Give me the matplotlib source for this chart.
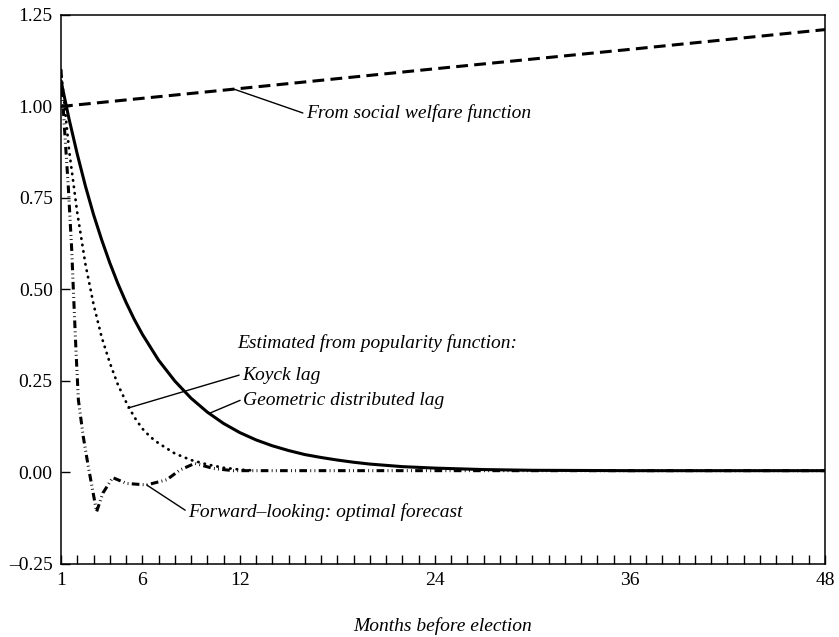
import numpy as np
import matplotlib
matplotlib.use('Agg')
import matplotlib.pyplot as plt

plt.rcParams['font.family'] = ['Liberation Serif', 'DejaVu Serif']
plt.rcParams['lines.scale_dashes'] = False

# values (months before election, weight)
welfare_months = [1, 12, 24, 36, 48]
welfare_vals = [1.00, 1.049, 1.103, 1.156, 1.21]

geometric_months = [1, 1.5, 2, 2.5, 3, 3.5, 4, 4.5, 5, 5.5, 6, 7, 8, 9, 10, 11, 12,
                    13, 14, 15, 16, 17, 18, 19, 20, 22, 24, 27, 30, 36, 48]
geometric_vals = [1.07, 0.965, 0.87, 0.783, 0.705, 0.636, 0.573, 0.516, 0.465, 0.419,
                  0.378, 0.307, 0.25, 0.203, 0.165, 0.134, 0.109, 0.089, 0.073, 0.06,
                  0.049, 0.041, 0.034, 0.028, 0.023, 0.016, 0.012, 0.008, 0.006,
                  0.005, 0.005]

koyck_months = [1, 1.5, 2, 2.5, 3, 3.5, 4, 4.5, 5, 5.5, 6, 6.5, 7, 8, 9, 10, 11, 12, 13]
koyck_vals = [1.10, 0.88, 0.71, 0.57, 0.46, 0.37, 0.30, 0.24, 0.193, 0.152, 0.12,
              0.097, 0.08, 0.052, 0.034, 0.022, 0.013, 0.008, 0.005]

forward_months = [1, 1.2, 1.45, 1.66, 1.76, 1.92, 2.07, 2.37, 2.68, 3.19, 3.58, 4.18,
                  5.04, 6.27, 7.5, 8.32, 9.24, 10.37, 11.6, 48]
forward_vals = [1.10, 0.95, 0.78, 0.608, 0.499, 0.335, 0.198, 0.098, 0.016, -0.107,
                -0.056, -0.014, -0.030, -0.034, -0.020, 0.007, 0.025, 0.011, 0.005, 0.005]

tick_months = [1, 6, 12, 24, 36, 48]
y_ticks = [-0.25, 0.0, 0.25, 0.50, 0.75, 1.00, 1.25]

fig = plt.figure(figsize=(8.39, 6.37), dpi=100)
ax = fig.add_axes([0.0727, 0.1146, 0.9106, 0.8619])

ax.plot(welfare_months, welfare_vals, color='black', lw=2.2, dashes=(8.5, 4.5))
ax.plot(geometric_months, geometric_vals, color='black', lw=2.2,
        solid_joinstyle='round', solid_capstyle='round')
ax.plot(koyck_months, koyck_vals, color='black', lw=2.0, dashes=(0.3, 4.4),
        dash_capstyle='round')
ax.plot(forward_months, forward_vals, color='black', lw=2.2,
        dashes=(5.5, 2.4, 0.6, 2.4, 0.6, 2.4))

ax.set_xlim(1, 48)
ax.set_ylim(-0.25, 1.25)
ax.set_xticks(tick_months)
ax.set_xticklabels([str(m) for m in tick_months])
ax.set_xticks(np.arange(1, 49), minor=True)
ax.set_yticks(y_ticks)
ax.set_yticklabels(['\u2013%.2f' % abs(v) if v < 0 else '%.2f' % v for v in y_ticks])

ax.tick_params(axis='both', which='both', direction='in', length=6.5, width=1.0,
               labelsize=14, top=False, right=False)
ax.tick_params(axis='x', pad=6)
ax.tick_params(axis='y', pad=6)
for s in ax.spines.values():
    s.set_linewidth(1.1)

ax.set_xlabel('Months before election', fontsize=14, style='italic', labelpad=20)

# annotations with leader lines
lead = dict(arrowstyle='-', color='black', lw=1.0, shrinkA=0, shrinkB=0)
ax.annotate('From social welfare function', xy=(11.6, 1.048), xytext=(16.05, 0.982),
            fontsize=14, style='italic', ha='left', va='center',
            arrowprops=dict(lead, relpos=(0, 0.45)))
ax.text(11.82, 0.354, 'Estimated from popularity function:', fontsize=14,
        style='italic', ha='left', va='center')
ax.annotate('Koyck lag', xy=(5.12, 0.176), xytext=(12.13, 0.266),
            fontsize=14, style='italic', ha='left', va='center',
            arrowprops=dict(lead, relpos=(0, 0.55)))
ax.annotate('Geometric distributed lag', xy=(10.2, 0.163), xytext=(12.19, 0.198),
            fontsize=14, style='italic', ha='left', va='center',
            arrowprops=dict(lead, relpos=(0, 0.55)))
ax.annotate('Forward\u2013looking: optimal forecast', xy=(6.27, -0.034),
            xytext=(8.81, -0.108), fontsize=14, style='italic', ha='left', va='center',
            arrowprops=dict(lead, relpos=(0, 0.5)))

fig.savefig('out.png', dpi=100)
